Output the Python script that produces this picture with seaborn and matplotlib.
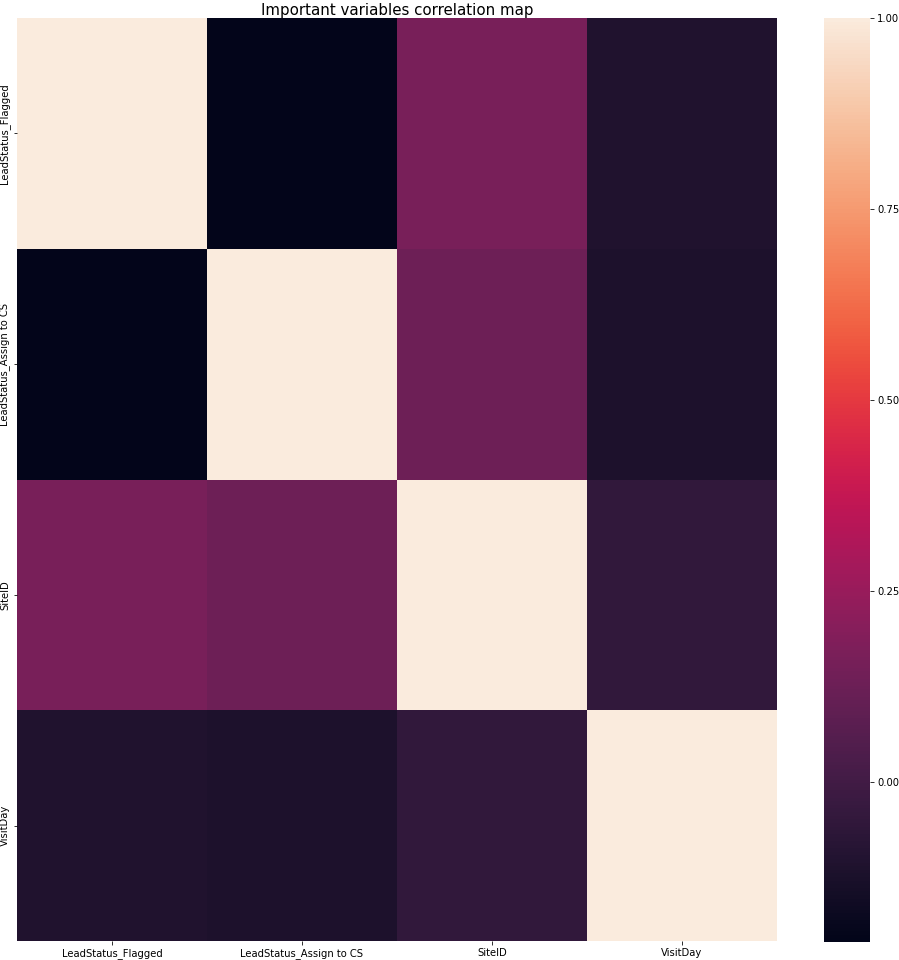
import numpy as np
import pandas as pd
import matplotlib
matplotlib.use("Agg")
import matplotlib.pyplot as plt
import seaborn as sns

labels = ["LeadStatus_Flagged", "LeadStatus_Assign to CS", "SiteID", "VisitDay"]
row_flagged = [1.00, -0.21, 0.16, -0.11]
row_assign = [-0.21, 1.00, 0.13, -0.12]
row_site = [0.16, 0.13, 1.00, -0.05]
row_visit = [-0.11, -0.12, -0.05, 1.00]

corr = pd.DataFrame([row_flagged, row_assign, row_site, row_visit],
                    index=labels, columns=labels)

DPI = 72
fig = plt.figure(figsize=(899/DPI, 960/DPI), dpi=DPI)
ax = fig.add_axes([17/899, 19/960, 760/899, 923/960])
cax = fig.add_axes([824/899, 18/960, 46/899, 924/960])
sns.heatmap(corr, ax=ax, cbar_ax=cax, cbar_kws={"ticks": [0.0, 0.25, 0.5, 0.75, 1.0]})
ax.set_title("Important variables correlation map", fontsize=15, pad=1)
ax.tick_params(axis="both", labelsize=10)
plt.setp(ax.get_yticklabels(), rotation=90, va="center")
plt.setp(ax.get_xticklabels(), rotation=0)
cax.tick_params(labelsize=10)
cax.yaxis.set_major_formatter(matplotlib.ticker.FormatStrFormatter("%.2f"))
fig.savefig("out.png", dpi=DPI)
